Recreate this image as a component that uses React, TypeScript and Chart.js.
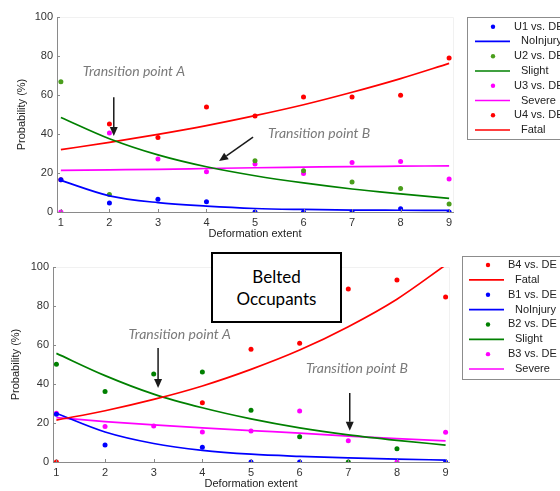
import { useEffect, useRef } from 'react';
import { Chart, registerables } from 'chart.js';

Chart.register(...registerables);
Chart.defaults.font.family = "'Liberation Sans', Arial, sans-serif";

// ---------- data ----------
const DE = [1, 2, 3, 4, 5, 6, 7, 8, 9];
const Y_TICKS = [0, 20, 40, 60, 80, 100];

// Unbelted occupants: observed probabilities (%)
const U1 = [16.5, 4.6, 6.6, 5.3, 0, 0, 0, 1.7, 0];
const U2 = [66.8, 9.0, null, null, 26.3, 21.1, 15.4, 12.1, 4.1];
const U3 = [0, 40.5, 27.2, 20.6, 24.6, 19.8, 25.4, 25.9, 16.9];
const U4 = [16.6, 45.1, 38.2, 53.8, 49.2, 59.0, 59.0, 59.9, 79.0];
// Unbelted fitted curves
const U_NOINJURY = [16.2, 8.3, 4.8, 3.0, 1.8, 1.3, 1.0, 0.9, 0.8];
const U_SLIGHT = [48.5, 37.6, 29.3, 23.2, 18.6, 14.9, 11.8, 9.3, 7.0];
const U_SEVERE = [21.3, 21.6, 21.9, 22.3, 22.7, 23.0, 23.3, 23.5, 23.7];
const U_FATAL = [32.0, 35.7, 39.8, 44.3, 49.4, 55.0, 61.4, 68.4, 76.2];

// Belted occupants: observed probabilities (%)
const B1 = [24.5, 8.7, null, 7.6, 0, 0, null, null, 0];
const B2 = [50.1, 36.1, 45.1, 46.2, 26.5, 13.0, 0, 6.8, null];
const B3 = [25.0, 18.2, 18.5, 15.4, 15.9, 26.2, 10.9, 0, 15.2];
const B4 = [0, null, null, 30.4, 57.8, 60.9, 88.7, 93.3, 84.6];
// Belted fitted curves
const B_NOINJURY = [25.0, 15.4, 9.5, 6.0, 4.0, 2.9, 2.1, 1.5, 1.0];
const B_SLIGHT = [55.7, 44.3, 34.8, 27.8, 22.1, 17.5, 13.9, 11.1, 8.7];
const B_SEVERE = [22.8, 20.7, 19.0, 17.5, 16.1, 14.8, 13.3, 12.0, 10.8];
const B_FATAL = [21.5, 26.3, 32.1, 39.0, 47.5, 57.4, 69.4, 83.5, 101];

const BLUE = '#0000ff';
const GREEN = '#008000';
const GREEN_PT_U = '#4a9e1c';
const MAGENTA = '#ff00ff';
const RED = '#ff0000';

// ---------- helpers ----------
function pts(values: (number | null)[]) {
  return DE.map((x, i) => ({ x, y: values[i] })).filter((p) => p.y !== null);
}

function pointDs(label: string, values: (number | null)[], color: string) {
  return {
    label,
    kind: 'point',
    data: pts(values),
    showLine: false,
    pointRadius: 2.5,
    pointHoverRadius: 2.5,
    pointBorderWidth: 0,
    pointBackgroundColor: color,
    backgroundColor: color,
    borderColor: color,
  };
}

function lineDs(label: string, values: number[], color: string) {
  return {
    label,
    kind: 'line',
    data: pts(values),
    showLine: true,
    pointRadius: 0,
    pointHoverRadius: 0,
    borderColor: color,
    backgroundColor: color,
    borderWidth: 1.7,
    cubicInterpolationMode: 'monotone',
    fill: false,
    clip: 0,
  };
}

const boxLegend = {
  id: 'boxLegend',
  afterDraw(chart: any, _args: any, o: any) {
    const ctx = chart.ctx;
    ctx.save();
    ctx.fillStyle = '#ffffff';
    ctx.fillRect(o.left, o.top, o.width, o.bottom - o.top);
    ctx.strokeStyle = '#8c8c8c';
    ctx.lineWidth = 1;
    ctx.strokeRect(o.left + 0.5, o.top + 0.5, o.width, o.bottom - o.top);
    ctx.font = "11px 'Liberation Sans', Arial, sans-serif";
    ctx.textBaseline = 'middle';
    ctx.textAlign = 'left';
    chart.data.datasets.forEach((ds: any, i: number) => {
      const y = o.firstRow + i * o.rowGap;
      if (ds.kind === 'point') {
        ctx.fillStyle = ds.pointBackgroundColor;
        ctx.beginPath();
        ctx.arc(o.markerX, y, 2.2, 0, Math.PI * 2);
        ctx.fill();
        ctx.fillStyle = '#222';
        ctx.fillText(ds.label, o.pointTextX, y);
      } else {
        ctx.strokeStyle = ds.borderColor;
        ctx.lineWidth = 1.7;
        ctx.beginPath();
        ctx.moveTo(o.lineX1, y);
        ctx.lineTo(o.lineX2, y);
        ctx.stroke();
        ctx.fillStyle = '#222';
        ctx.fillText(ds.label, o.lineTextX, y);
      }
    });
    ctx.restore();
  },
};

const frame = {
  id: 'frame',
  beforeDatasetsDraw(chart: any) {
    const ctx = chart.ctx;
    const a = chart.chartArea;
    ctx.save();
    ctx.strokeStyle = '#f1f1f1';
    ctx.lineWidth = 1;
    ctx.beginPath();
    ctx.moveTo(a.left, Math.round(a.top) + 0.5);
    ctx.lineTo(Math.round(a.right) + 0.5, Math.round(a.top) + 0.5);
    ctx.lineTo(Math.round(a.right) + 0.5, a.bottom);
    ctx.stroke();
    ctx.restore();
  },
};

const notes = {
  id: 'notes',
  afterDatasetsDraw(chart: any, _args: any, o: any) {
    const ctx = chart.ctx;
    const xs = chart.scales.x;
    const ys = chart.scales.y;
    ctx.save();
    // inward tick marks
    ctx.strokeStyle = '#8a8a8a';
    ctx.lineWidth = 1;
    DE.forEach((v) => {
      const px = Math.round(xs.getPixelForValue(v)) + 0.5;
      ctx.beginPath();
      ctx.moveTo(px, ys.bottom);
      ctx.lineTo(px, ys.bottom - 3);
      ctx.stroke();
    });
    Y_TICKS.forEach((v) => {
      const py = Math.round(ys.getPixelForValue(v)) + 0.5;
      ctx.beginPath();
      ctx.moveTo(xs.left, py);
      ctx.lineTo(xs.left + 3, py);
      ctx.stroke();
    });
    // texts
    ctx.font = "italic 14px Lato, 'Open Sans', sans-serif";
    ctx.fillStyle = '#7a7a7a';
    ctx.textBaseline = 'middle';
    ctx.textAlign = 'left';
    (o.texts || []).forEach((t: any) => {
      ctx.fillText(t.label, xs.getPixelForValue(t.x), ys.getPixelForValue(t.y));
    });
    // arrows
    ctx.strokeStyle = '#1a1a1a';
    ctx.fillStyle = '#1a1a1a';
    ctx.lineWidth = 1.5;
    (o.arrows || []).forEach((a: any) => {
      const x1 = xs.getPixelForValue(a.x1);
      const y1 = ys.getPixelForValue(a.y1);
      const x2 = xs.getPixelForValue(a.x2);
      const y2 = ys.getPixelForValue(a.y2);
      const ang = Math.atan2(y2 - y1, x2 - x1);
      const hl = 9;
      const hw = 4;
      const bx = x2 - hl * Math.cos(ang);
      const by = y2 - hl * Math.sin(ang);
      ctx.beginPath();
      ctx.moveTo(x1, y1);
      ctx.lineTo(bx, by);
      ctx.stroke();
      ctx.beginPath();
      ctx.moveTo(x2, y2);
      ctx.lineTo(bx + hw * Math.sin(ang), by - hw * Math.cos(ang));
      ctx.lineTo(bx - hw * Math.sin(ang), by + hw * Math.cos(ang));
      ctx.closePath();
      ctx.fill();
    });
    ctx.restore();
  },
};

function makeConfig(p: any) {
  return {
    type: 'scatter',
    data: { datasets: p.datasets },
    options: {
      responsive: false,
      animation: false,
      devicePixelRatio: 1,
      layout: { padding: p.padding },
      plugins: {
        legend: { display: false },
        tooltip: { enabled: false },
        boxLegend: p.legend,
        notes: p.notes,
      },
      scales: {
        x: {
          type: 'linear',
          min: p.xMin,
          max: p.xMax,
          afterBuildTicks: (s: any) => {
            s.ticks = DE.map((v) => ({ value: v }));
          },
          afterFit: (s: any) => {
            s.height = p.xHeight;
          },
          grid: { display: true, drawOnChartArea: false, drawTicks: false, color: '#8a8a8a' },
          border: { display: true, color: '#8a8a8a', width: 1 },
          ticks: { color: '#333', font: { size: 11 }, padding: 4, maxRotation: 0 },
          title: {
            display: true,
            text: 'Deformation extent',
            color: '#222',
            font: { size: 11 },
            padding: { top: p.xTitlePad, bottom: p.xTitlePad },
          },
        },
        y: {
          type: 'linear',
          min: 0,
          max: 100,
          afterBuildTicks: (s: any) => {
            s.ticks = Y_TICKS.map((v) => ({ value: v }));
          },
          afterFit: (s: any) => {
            s.width = p.yWidth;
          },
          grid: { display: true, drawOnChartArea: false, drawTicks: false, color: '#8a8a8a' },
          border: { display: true, color: '#8a8a8a', width: 1 },
          ticks: { color: '#333', font: { size: 11 }, padding: 4 },
          title: {
            display: true,
            text: 'Probability (%)',
            color: '#222',
            font: { size: 11 },
            padding: { top: p.yTitlePad, bottom: p.yTitlePad },
          },
        },
      },
    },
    plugins: [frame, boxLegend, notes],
  };
}

const topConfig = makeConfig({
  datasets: [
    pointDs('U1 vs. DE', U1, BLUE),
    lineDs('NoInjury', U_NOINJURY, BLUE),
    pointDs('U2 vs. DE', U2, GREEN_PT_U),
    lineDs('Slight', U_SLIGHT, GREEN),
    pointDs('U3 vs. DE', U3, MAGENTA),
    lineDs('Severe', U_SEVERE, MAGENTA),
    pointDs('U4 vs. DE', U4, RED),
    lineDs('Fatal', U_FATAL, RED),
  ],
  padding: { top: 17, right: 107, left: 0, bottom: 0 },
  xMin: 0.92,
  xMax: 9.08,
  xHeight: 33,
  yWidth: 57,
  xTitlePad: 4,
  yTitlePad: 15,
  legend: {
    left: 467, top: 17, bottom: 139, width: 120,
    firstRow: 26.7, rowGap: 14.76,
    markerX: 493, pointTextX: 514, lineX1: 475, lineX2: 510, lineTextX: 521,
  },
  notes: {
    texts: [
      { label: 'Transition point A', x: 1.45, y: 72.2 },
      { label: 'Transition point B', x: 5.27, y: 40.4 },
    ],
    arrows: [
      { x1: 2.09, y1: 58.9, x2: 2.09, y2: 39.0 },
      { x1: 4.96, y1: 38.4, x2: 4.26, y2: 26.1 },
    ],
  },
});

const bottomConfig = makeConfig({
  datasets: [
    pointDs('B4 vs. DE', B4, RED),
    lineDs('Fatal', B_FATAL, RED),
    pointDs('B1 vs. DE', B1, BLUE),
    lineDs('NoInjury', B_NOINJURY, BLUE),
    pointDs('B2 vs. DE', B2, GREEN),
    lineDs('Slight', B_SLIGHT, GREEN),
    pointDs('B3 vs. DE', B3, MAGENTA),
    lineDs('Severe', B_SEVERE, MAGENTA),
  ],
  padding: { top: 22, right: 111, left: 0, bottom: 0 },
  xMin: 0.93,
  xMax: 9.07,
  xHeight: 29,
  yWidth: 53,
  xTitlePad: 0,
  yTitlePad: 9,
  legend: {
    left: 462, top: 11, bottom: 134, width: 120,
    firstRow: 20, rowGap: 14.86,
    markerX: 488, pointTextX: 508, lineX1: 469, lineX2: 504, lineTextX: 515,
  },
  notes: {
    texts: [
      { label: 'Transition point A', x: 2.48, y: 65.6 },
      { label: 'Transition point B', x: 6.13, y: 48.2 },
    ],
    arrows: [
      { x1: 3.09, y1: 58.5, x2: 3.09, y2: 38.0 },
      { x1: 7.03, y1: 35.4, x2: 7.03, y2: 16.0 },
    ],
  },
});

function PanelChart({ config, top, height }: { config: any; top: number; height: number }) {
  const ref = useRef<HTMLCanvasElement | null>(null);
  useEffect(() => {
    if (!ref.current) return;
    const chart = new Chart(ref.current, config);
    return () => chart.destroy();
  }, [config]);
  return (
    <canvas
      ref={ref}
      width={560}
      height={height}
      style={{ position: 'absolute', left: 0, top, width: 560, height, display: 'block' }}
    />
  );
}

export default function App() {
  useEffect(() => {
    document.body.style.margin = '0';
  }, []);
  return (
    <div
      style={{
        position: 'fixed',
        left: 0,
        top: 0,
        width: 560,
        height: 491,
        overflow: 'hidden',
        background: '#ffffff',
      }}
    >
      <PanelChart config={topConfig} top={0} height={245} />
      <PanelChart config={bottomConfig} top={245} height={246} />
      <div
        style={{
          position: 'absolute',
          left: 211,
          top: 252,
          width: 131,
          height: 71,
          boxSizing: 'border-box',
          border: '2px solid #000',
          background: '#fff',
          display: 'flex',
          flexDirection: 'column',
          alignItems: 'center',
          justifyContent: 'center',
          fontFamily: "Lato, 'Open Sans', sans-serif",
          fontSize: 17,
          lineHeight: '22px',
          color: '#000',
        }}
      >
        <span>Belted</span>
        <span>Occupants</span>
      </div>
    </div>
  );
}
